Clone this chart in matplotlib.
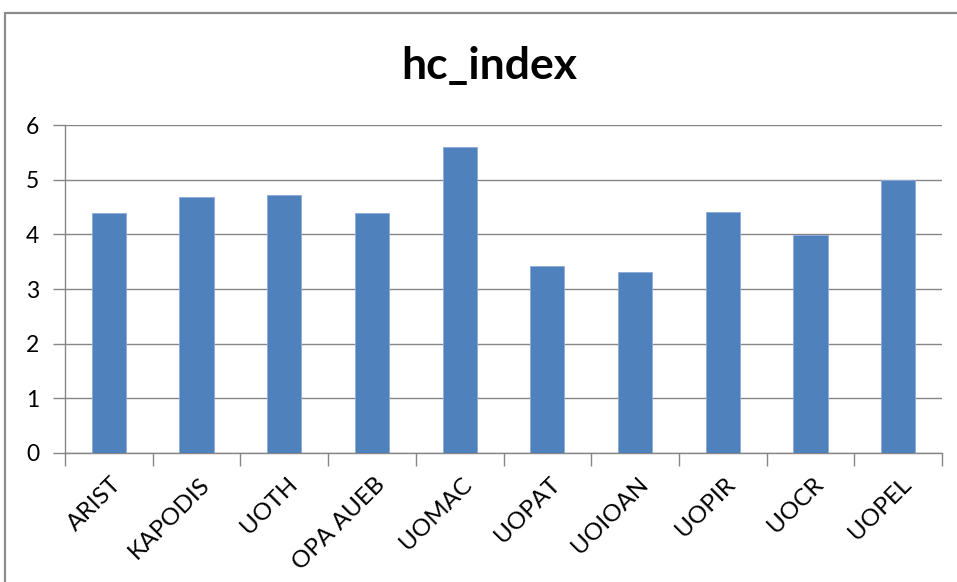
import numpy as np
import matplotlib.pyplot as plt
import matplotlib.transforms as mtransforms
from matplotlib.patches import Rectangle

categories = ['ARIST', 'KAPODIS', 'UOTH', 'OPA AUEB', 'UOMAC',
              'UOPAT', 'UOIOAN', 'UOPIR', 'UOCR', 'UOPEL']
hc_index = [4.39, 4.69, 4.72, 4.39, 5.61, 3.42, 3.31, 4.41, 3.99, 4.99]

W, H = 957, 582
plt.rcParams['font.family'] = ['Lato', 'DejaVu Sans']
fig = plt.figure(figsize=(W / 100, H / 100), dpi=100)

# chart area frame (cut off on right/bottom like the screenshot)
fig.patches.append(Rectangle((5 / W, -0.1), 1.2, 1 - 13 / H + 0.1,
                             transform=fig.transFigure, fill=False,
                             edgecolor='#8c8c8c', linewidth=1.6))

left, right, bottom, top = 65, 942, 452.7, 125.3
ax = fig.add_axes([left / W, 1 - bottom / H, (right - left) / W, (bottom - top) / H])

x = np.arange(len(categories))
ax.bar(x, hc_index, width=0.39, color='#4f81bd', edgecolor='#8eaadb', linewidth=0.6,
       zorder=3)

ax.set_xlim(-0.5, len(categories) - 0.5)
ax.set_ylim(0, 6)
ax.set_yticks(range(0, 7))
ax.tick_params(axis='y', length=9, width=1, color='#868686', labelsize=16.5,
               pad=9.5, labelcolor='black')
ax.yaxis.grid(True, color='#868686', linewidth=1, zorder=0)

ax.set_xticks(x)
ax.set_xticklabels(categories, rotation=45, ha='right', va='top',
                   rotation_mode='anchor', fontsize=17.5)
ax.tick_params(axis='x', which='major', length=0, pad=15)
shift = mtransforms.ScaledTranslation(2 / 100, 0, fig.dpi_scale_trans)
for lab in ax.get_xticklabels():
    lab.set_transform(lab.get_transform() + shift)
ax.set_xticks(np.arange(-0.5, len(categories)), minor=True)
ax.tick_params(axis='x', which='minor', length=9, width=1, color='#868686')

for s in ['top', 'right']:
    ax.spines[s].set_visible(False)
for s in ['left', 'bottom']:
    ax.spines[s].set_color('#868686')
    ax.spines[s].set_linewidth(1)

fig.text(489 / W, 1 - 66 / H, 'hc_index', ha='center', va='center',
         fontsize=32, fontweight='bold')

fig.savefig('out.png', dpi=100)
